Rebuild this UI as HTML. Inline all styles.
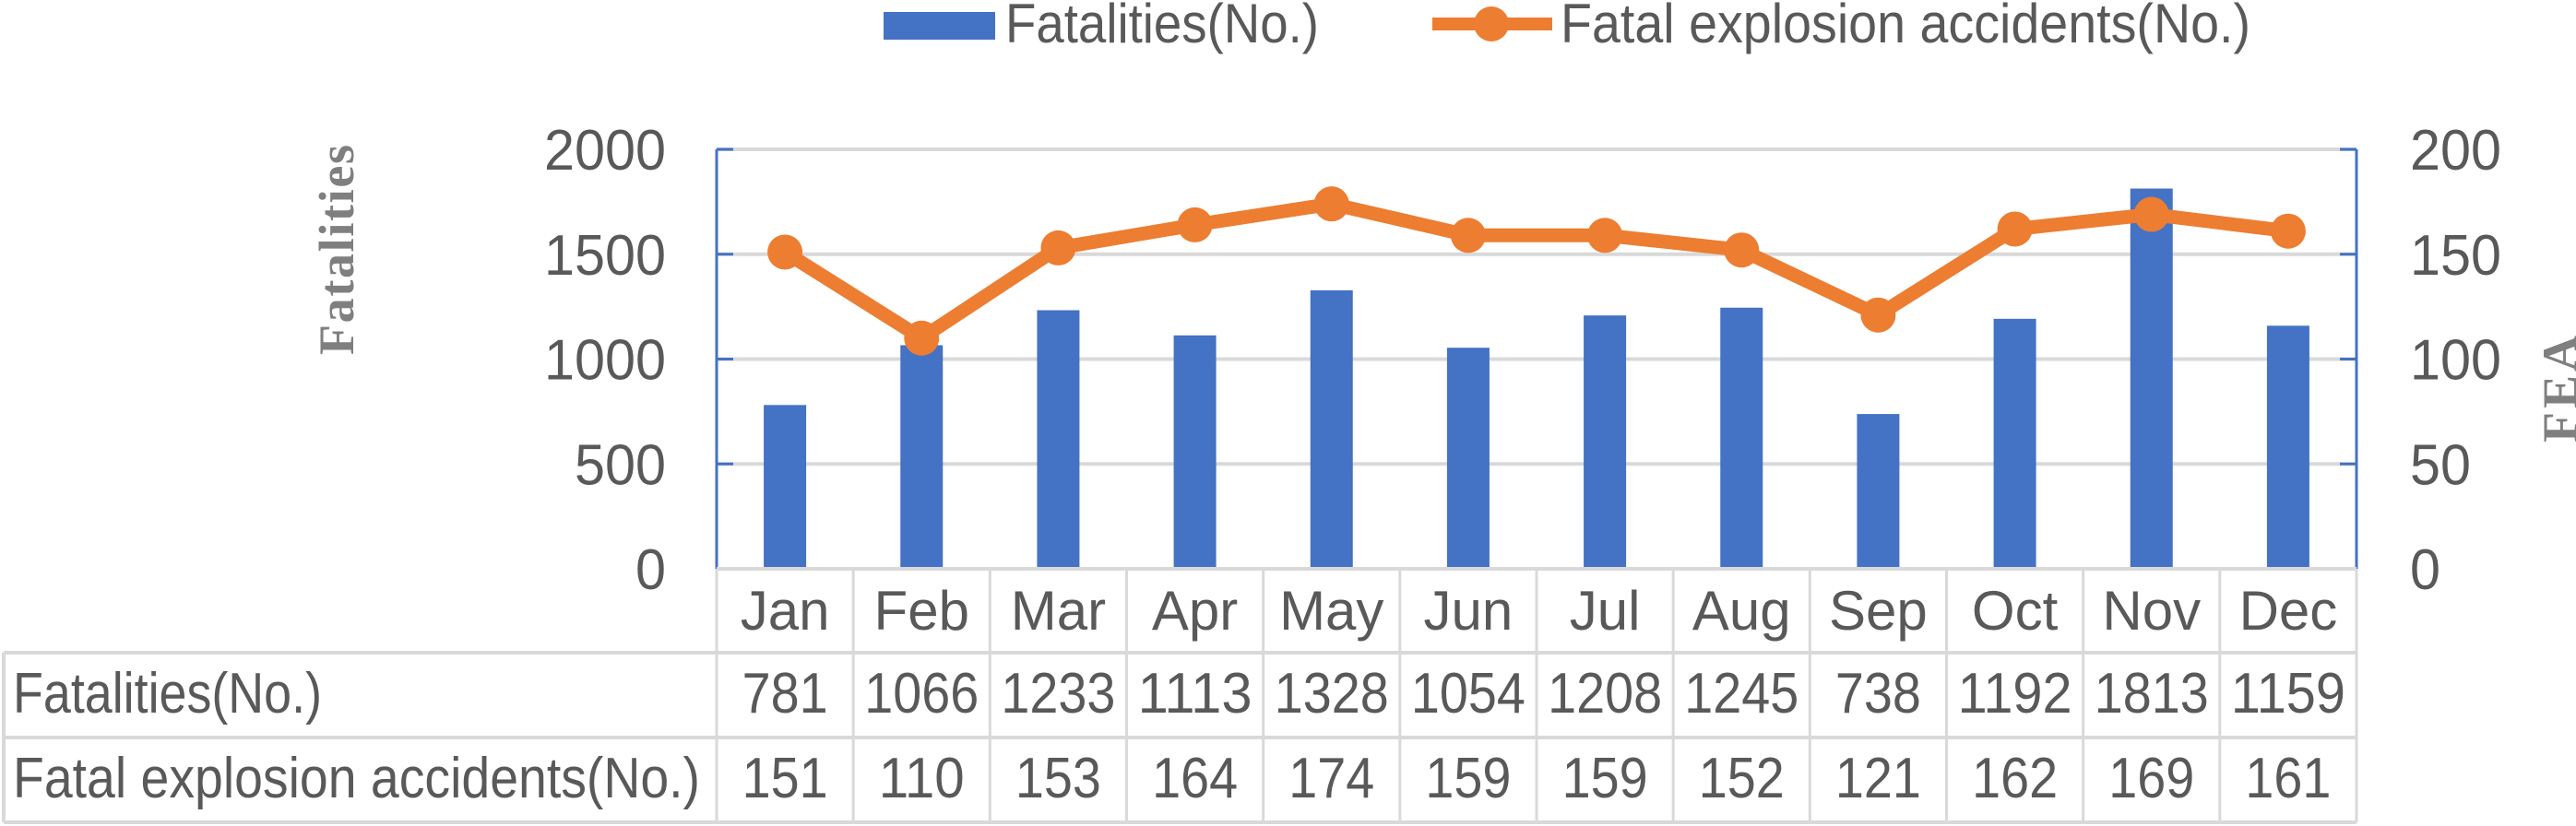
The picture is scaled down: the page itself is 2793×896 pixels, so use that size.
<!DOCTYPE html>
<html><head><meta charset="utf-8"><style>
html,body{margin:0;padding:0;background:#fff;}
svg{display:block;}
text{font-family:"Liberation Sans",sans-serif;fill:#595959;}
</style></head><body>
<svg id="chart" width="2793" height="896" viewBox="0 0 2793 896" xmlns="http://www.w3.org/2000/svg">
<g id="legend">
  <rect x="958" y="13" width="121" height="30" fill="#4472C4"/>
  <text x="1090" y="46" font-size="60" textLength="340" lengthAdjust="spacingAndGlyphs">Fatalities(No.)</text>
  <line x1="1553" y1="26" x2="1683" y2="26" stroke="#ED7D31" stroke-width="14"/>
  <circle cx="1617" cy="26" r="19" fill="#ED7D31"/>
  <text x="1692" y="46" font-size="60" textLength="748" lengthAdjust="spacingAndGlyphs">Fatal explosion accidents(No.)</text>
</g>
<text transform="translate(383,271) rotate(-90)" text-anchor="middle" font-size="54" font-weight="bold" style="font-family:'Liberation Serif',serif;fill:#7f7f7f" textLength="228" lengthAdjust="spacing">Fatalities</text>
<text transform="translate(2794,420) rotate(-90)" text-anchor="middle" font-size="54" font-weight="bold" style="font-family:'Liberation Serif',serif;fill:#7f7f7f" letter-spacing="4">FEA</text>
<g id="grid"></g>
<g id="bars"></g>
<g id="axes"></g>
<g id="line"></g>
<g id="table"></g>
</svg>
<script>
const categories = ["Jan","Feb","Mar","Apr","May","Jun","Jul","Aug","Sep","Oct","Nov","Dec"];
const fatalities = [781,1066,1233,1113,1328,1054,1208,1245,738,1192,1813,1159];
const fea = [151,110,153,164,174,159,159,152,121,162,169,161];
const leftTicks = [0,500,1000,1500,2000];
const rightTicks = [0,50,100,150,200];

const NS = "http://www.w3.org/2000/svg";
const L = 777, R = 2555, T = 162, B = 617;
const cw = (R - L) / categories.length;
const yL = v => B - (v / 2000) * (B - T);
const yR = v => B - (v / 200) * (B - T);
const xC = i => L + cw * (i + 0.5);
function mk(tag, attrs, parent, txt){
  const e = document.createElementNS(NS, tag);
  for (const k in attrs) e.setAttribute(k, attrs[k]);
  if (txt !== undefined) e.textContent = txt;
  document.getElementById(parent).appendChild(e);
  return e;
}
leftTicks.forEach((t, i) => {
  const g = mk("line", {x1:L, x2:R, y1:yL(t), y2:yL(t), stroke:"#d9d9d9", "stroke-width":4}, "grid");
  
  
  const lt = mk("text", {x:722, y:yL(t)+22, "text-anchor":"end", "font-size":62, textLength:String(t).length*33, lengthAdjust:"spacingAndGlyphs"}, "axes", t);
  
  
  const tk1 = mk("line", {x1:L, x2:L+18, y1:yL(t), y2:yL(t), stroke:"#4472C4", "stroke-width":3}, "axes");
  
  
});
rightTicks.forEach(t => {
  const rt = mk("text", {x:2613, y:yR(t)+22, "font-size":62, textLength:String(t).length*33, lengthAdjust:"spacingAndGlyphs"}, "axes", t);
  
  
  const tk2 = mk("line", {x1:R-18, x2:R, y1:yR(t), y2:yR(t), stroke:"#4472C4", "stroke-width":3}, "axes");
  
  
});
const la = mk("line", {x1:L, x2:L, y1:T, y2:B, stroke:"#4472C4", "stroke-width":3}, "axes");


const ra = mk("line", {x1:R, x2:R, y1:T, y2:B, stroke:"#4472C4", "stroke-width":3}, "axes");


fatalities.forEach((v, i) => {
  const b = mk("rect", {x:xC(i)-23, y:yL(v), width:46, height:B-yL(v), fill:"#4472C4"}, "bars");
  
  
});
const pts = fea.map((v, i) => xC(i) + "," + yR(v)).join(" ");
const pl = mk("polyline", {points:pts, fill:"none", stroke:"#ED7D31", "stroke-width":15, "stroke-linejoin":"round"}, "line");


fea.forEach((v, i) => {
  const c = mk("circle", {cx:xC(i), cy:yR(v), r:19, fill:"#ED7D31"}, "line");
  
  
});
[[L, 617], [4, 708], [4, 800], [4, 892]].forEach(([x0, y]) => {
  const h = mk("line", {x1:x0, x2:R, y1:y, y2:y, stroke:"#d9d9d9", "stroke-width":4}, "table");
  
  
});
const v0 = mk("line", {x1:4, x2:4, y1:708, y2:892, stroke:"#d9d9d9", "stroke-width":4}, "table");


for (let i = 0; i <= categories.length; i++) {
  const v = mk("line", {x1:L+cw*i, x2:L+cw*i, y1:617, y2:892, stroke:"#d9d9d9", "stroke-width":3}, "table");
  
  
}
const h1 = mk("text", {x:14, y:773, "font-size":62, textLength:335, lengthAdjust:"spacingAndGlyphs"}, "table", "Fatalities(No.)");


const h2 = mk("text", {x:14, y:865, "font-size":62, textLength:745, lengthAdjust:"spacingAndGlyphs"}, "table", "Fatal explosion accidents(No.)");


categories.forEach((c, i) => {
  const m = mk("text", {x:xC(i), y:683, "text-anchor":"middle", "font-size":60}, "table", c);
  
  
  const f = mk("text", {x:xC(i), y:773, "text-anchor":"middle", "font-size":62, textLength:String(fatalities[i]).length*31, lengthAdjust:"spacingAndGlyphs"}, "table", fatalities[i]);
  
  
  const e = mk("text", {x:xC(i), y:865, "text-anchor":"middle", "font-size":62, textLength:String(fea[i]).length*31, lengthAdjust:"spacingAndGlyphs"}, "table", fea[i]);
  
  
});
</script>
</body></html>
